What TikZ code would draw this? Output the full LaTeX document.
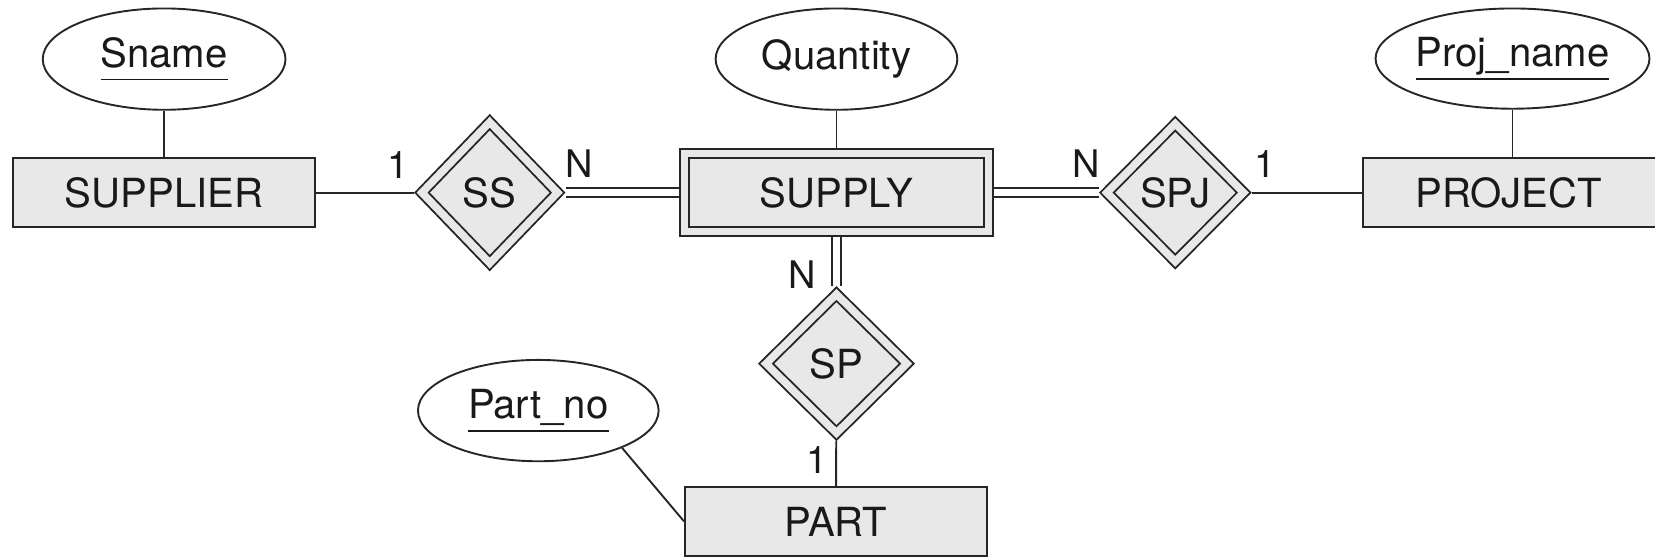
\documentclass[tikz,border=0pt]{standalone}
\usepackage{fontspec}
\setmainfont{TeX Gyre Heros}
\usetikzlibrary{shapes.geometric}
\definecolor{boxfill}{RGB}{232,232,232}
\definecolor{ink}{RGB}{38,38,38}
\newcommand\keyattr[1]{\setbox0\hbox{#1}\rlap{\rule[-6pt]{\wd0}{0.9pt}}\box0}
\begin{document}
\begin{tikzpicture}[x=0.5pt,y=-0.5pt,
  every node/.style={font=\fontsize{19}{23}\selectfont, text=black!90, inner sep=0pt},
  erline/.style={draw=ink, line width=0.9pt},
  entity/.style={erline, rectangle, fill=boxfill, minimum width=143pt, minimum height=32.5pt},
  weakentity/.style={erline, rectangle, fill=boxfill, double=boxfill, double distance=3.6pt,
    minimum width=144pt, minimum height=37pt, outer sep=2.7pt},
  identrel/.style={erline, diamond, fill=boxfill, double=boxfill, double distance=3.6pt, outer sep=2.7pt},
  attr/.style={erline, ellipse, fill=white},
  card/.style={font=\fontsize{18}{22}\selectfont},
  link/.style={draw=ink, line width=0.9pt},
  total/.style={draw=ink, line width=0.9pt, double=white, double distance=3.4pt},
]
\useasboundingbox (0,0) rectangle (1568,527);
\clip (0,0) rectangle (1568,527);

% attributes
\node[attr, minimum width=115pt, minimum height=48pt] (Sname) at (155.5,56) {\keyattr{Sname}};
\node[attr, minimum width=114.5pt, minimum height=48pt] (Quantity) at (792.5,56) {Quantity};
\node[attr, minimum width=114pt, minimum height=47.5pt] (Projname) at (1433,55.5) {\keyattr{Proj\_name}};
\node[attr, minimum width=114pt, minimum height=48pt] (Partno) at (510,389) {\keyattr{Part\_no}};

% entities
\node[entity] (SUPPLIER) at (155.5,182.5) {SUPPLIER};
\node[weakentity] (SUPPLY) at (792.5,182.5) {SUPPLY};
\node[entity, minimum width=200pt, text width=150pt, align=left, inner xsep=25pt] (PROJECT) at (1491,182.5) {PROJECT};
\node[entity] (PART) at (792,494) {PART};

% relationships
\node[identrel, minimum width=66.5pt, minimum height=69pt] (SS) at (464,182.5) {SS};
\node[identrel, minimum width=67pt, minimum height=67.5pt] (SPJ) at (1113.5,182.5) {SPJ};
\node[identrel, minimum width=69pt, minimum height=68pt] (SP) at (792.5,344.5) {SP};

% connectors
\draw[link] (Sname) -- (SUPPLIER);
\draw[link] (Quantity) -- (SUPPLY);
\draw[link] (Projname.south) -- (Projname.south |- PROJECT.north);
\draw[link] (Partno.-24) -- (PART.west);
\draw[link] (SUPPLIER) -- (SS);
\draw[total] (SS) -- (SUPPLY);
\draw[total] (SUPPLY) -- (SPJ);
\draw[link] (SPJ.east) -- (SPJ.east -| PROJECT.west);
\draw[total] (SUPPLY) -- (SP);
\draw[link] (SP) -- (PART);

% cardinalities
\node[card] (c1) at (377,156) {1};
\node[card] (c2) at (549,155) {N};
\node[card] (c3) at (1029,155) {N};
\node[card] (c4) at (1199,155) {1};
\node[card] (c5) at (760,260) {N};
\node[card] (c6) at (774,436) {1};
\end{tikzpicture}
\end{document}
